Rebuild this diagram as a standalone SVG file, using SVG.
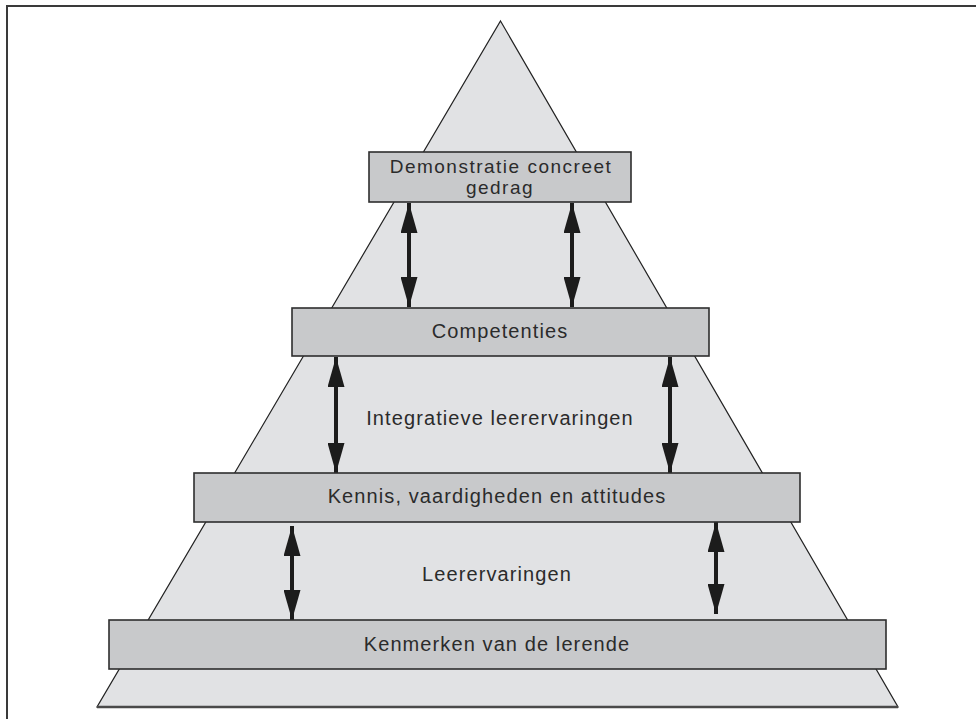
<svg xmlns="http://www.w3.org/2000/svg" width="976" height="719" viewBox="0 0 976 719">
  <style>
    .frame { fill: none; stroke: #3a3a3a; stroke-width: 2; }
    .pyramid { fill: #e1e2e4; stroke: #222; stroke-width: 1.2; stroke-linejoin: miter; }
    .base { stroke: #4a4a4a; stroke-width: 2.5; }
    .box { fill: #c8c9cb; stroke: #2e2e2e; stroke-width: 1.6; }
    .label { font-family: "Liberation Sans", Arial, sans-serif; font-size: 20px; letter-spacing: 1.1px; fill: #2b2b2b; text-anchor: middle; }
    .tight { font-size: 19px; letter-spacing: 1.5px; }
    .arrow { stroke: #1c1c1c; stroke-width: 4; fill: none; marker-start: url(#head); marker-end: url(#head); }
  </style>
  <defs>
    <marker id="head" viewBox="0 0 30 17" refX="30" refY="8.5" markerWidth="30" markerHeight="17" markerUnits="userSpaceOnUse" orient="auto-start-reverse">
      <path d="M0,0 L30,8.5 L0,17 Z" fill="#1c1c1c"/>
    </marker>
  </defs>

  <!-- outer frame (open on the right and bottom) -->
  <path class="frame" d="M7,719 L7,6 L976,6"/>

  <!-- pyramid -->
  <g id="pyramid">
    <polygon class="pyramid" points="500.5,21 898,707 97,707"/>
    <line class="base" x1="97" y1="707" x2="898" y2="707"/>
  </g>

  <!-- connectors -->
  <g id="connectors">
    <line class="arrow" x1="409" y1="203" x2="409" y2="307"/>
    <line class="arrow" x1="572" y1="203" x2="572" y2="307"/>
    <line class="arrow" x1="336" y1="357" x2="336" y2="473"/>
    <line class="arrow" x1="670" y1="357" x2="670" y2="473"/>
    <line class="arrow" x1="292" y1="526" x2="292" y2="620"/>
    <line class="arrow" x1="716" y1="522" x2="716" y2="614"/>
  </g>

  <g id="demonstratie">
    <rect class="box" x="369" y="152" width="262" height="50"/>
    <text class="label tight" x="501" y="172.5">Demonstratie concreet</text>
    <text class="label tight" x="500" y="193.5">gedrag</text>
  </g>

  <g id="competenties">
    <rect class="box" x="292" y="308" width="417" height="48"/>
    <text class="label" x="500" y="338">Competenties</text>
  </g>

  <g id="integratieve">
    <text class="label" x="500" y="425">Integratieve leerervaringen</text>
  </g>

  <g id="kennis">
    <rect class="box" x="194" y="473" width="606" height="49"/>
    <text class="label" x="497" y="503">Kennis, vaardigheden en attitudes</text>
  </g>

  <g id="leerervaringen">
    <text class="label" x="497" y="581">Leerervaringen</text>
  </g>

  <g id="kenmerken">
    <rect class="box" x="109" y="620" width="777" height="49"/>
    <text class="label" x="497" y="651">Kenmerken van de lerende</text>
  </g>
</svg>
